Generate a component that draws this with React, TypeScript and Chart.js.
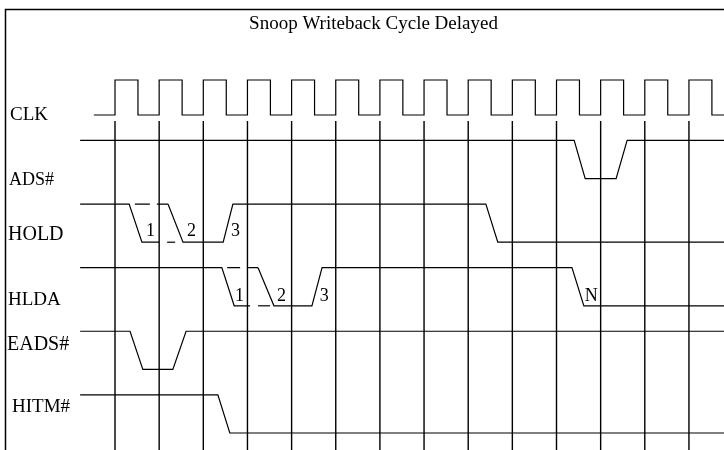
import React, { useEffect, useRef } from "react";
import { Chart, registerables } from "chart.js";

Chart.register(...registerables);

// ---------- data (time in clock cycles, level 1 = high, 0 = low) ----------
const chartTitle = "Snoop Writeback Cycle Delayed";
const signalNames = ["CLK", "ADS#", "HOLD", "HLDA", "EADS#", "HITM#"];
const clockRiseTimes = [0, 1, 2, 3, 4, 5, 6, 7, 8, 9, 10, 11, 12, 13];
const clockHighTime = 0.52;
const clockStart = -0.48;
const traceStart = -0.79;
const traceEnd = 13.8;

type Pt = [number, number] | null;

const adsWave: Pt[] = [[traceStart, 1], [10.4, 1], [10.65, 0], [11.35, 0], [11.6, 1], [traceEnd, 1]];
const holdWave: Pt[] = [[traceStart, 1], [0.32, 1], [0.61, 0], [1.0, 0], null, [1.2, 1], [1.54, 0], [2.45, 0], [2.67, 1], [8.4, 1], [8.67, 0], [traceEnd, 0]];
const holdDashHigh: Pt[] = [[0.45, 1], [1.2, 1]];
const holdDashLow: Pt[] = [[1.18, 0], [1.54, 0]];
const hldaWave: Pt[] = [[traceStart, 1], [2.42, 1], [2.7, 0], [3.06, 0], null, [3.24, 1], [3.6, 0], [4.46, 0], [4.69, 1], [10.35, 1], [10.62, 0], [traceEnd, 0]];
const hldaDashHigh: Pt[] = [[2.54, 1], [3.24, 1]];
const hldaDashLow: Pt[] = [[3.24, 0], [3.6, 0]];
const eadsWave: Pt[] = [[traceStart, 1], [0.34, 1], [0.63, 0], [1.31, 0], [1.61, 1], [traceEnd, 1]];
const hitmWave: Pt[] = [[traceStart, 1], [2.33, 1], [2.6, 0], [traceEnd, 0]];

const holdMarkText = ["1", "2", "3"];
const holdMarkTimes = [0.7, 1.63, 2.63];
const hldaMarkText = ["1", "2", "3", "N"];
const hldaMarkTimes = [2.72, 3.67, 4.64, 10.64];

// ---------- geometry helpers ----------
const X_MIN = -2.605;
const X_MAX = 13.794;
const Y_MIN = -1.808;
const Y_MAX = 5.267;
const CLK_AMP = 0.55;
const SIG_AMP = 0.6;
const GRID_TOP = 0.094;

function toXY(row: number, amp: number, pts: Pt[]) {
  const out: { x: number; y: number | null }[] = [];
  let lastX = 0;
  for (const p of pts) {
    if (p === null) {
      out.push({ x: lastX, y: null });
    } else {
      lastX = p[0];
      out.push({ x: p[0], y: row - p[1] * amp });
    }
  }
  return out;
}

function clockPoints(): Pt[] {
  const pts: Pt[] = [[clockStart, 0]];
  for (const r of clockRiseTimes) {
    pts.push([r, 0], [r, 1], [r + clockHighTime, 1], [r + clockHighTime, 0]);
  }
  pts.push([traceEnd, 0]);
  return pts;
}

function gridPoints() {
  const out: { x: number; y: number | null }[] = [];
  for (const t of clockRiseTimes) {
    out.push({ x: t, y: GRID_TOP }, { x: t, y: Y_MAX }, { x: t, y: null });
  }
  return out;
}

const SERIF = '"Liberation Serif", "Times New Roman", serif';

const textPlugin = {
  id: "timingText",
  afterDatasetsDraw(chart: any) {
    const { ctx, scales } = chart;
    const xs = scales.x;
    const ys = scales.y;
    ctx.save();
    // frame
    ctx.strokeStyle = "#000";
    ctx.lineWidth = 1.5;
    ctx.beginPath();
    ctx.moveTo(5.5, 460);
    ctx.lineTo(5.5, 9.5);
    ctx.lineTo(740, 9.5);
    ctx.stroke();

    ctx.fillStyle = "#000";
    ctx.textBaseline = "alphabetic";
    // title
    ctx.font = `19px ${SERIF}`;
    ctx.textAlign = "center";
    ctx.fillText(chartTitle, 373.5, 29);

    // signal names
    ctx.textAlign = "left";
    const namePos = [
      [10, 120, 19],
      [9, 185, 18],
      [8, 240, 20],
      [8, 305, 19],
      [7, 350, 20],
      [12, 412, 19],
    ];
    signalNames.forEach((n, i) => {
      const [x, y, s] = namePos[i];
      ctx.font = `${s}px ${SERIF}`;
      ctx.fillText(n, x, y);
    });

    // edge markers
    ctx.font = `18px ${SERIF}`;
    holdMarkText.forEach((m, i) => {
      ctx.fillText(m, xs.getPixelForValue(holdMarkTimes[i]), ys.getPixelForValue(2 - 0.1));
    });
    hldaMarkText.forEach((m, i) => {
      ctx.fillText(m, xs.getPixelForValue(hldaMarkTimes[i]), ys.getPixelForValue(3 - 0.08));
    });
    ctx.restore();
  },
};

export default function App() {
  const ref = useRef<HTMLCanvasElement | null>(null);
  useEffect(() => {
    if (!ref.current) return;
    const line = (data: any, width = 1.2, dash: number[] = []) => ({
      data,
      borderColor: "#000",
      borderWidth: width,
      borderDash: dash,
      pointRadius: 0,
      tension: 0,
      spanGaps: false,
      fill: false,
    });
    const chart = new Chart(ref.current, {
      type: "line",
      data: {
        datasets: [
          line(gridPoints(), 1.4),
          line(toXY(0, CLK_AMP, clockPoints())),
          line(toXY(1, SIG_AMP, adsWave)),
          line(toXY(2, SIG_AMP, holdWave)),
          line(toXY(2, SIG_AMP, holdDashHigh), 1.2, [15, 7]),
          line(toXY(2, SIG_AMP, holdDashLow), 1.2, [8, 8]),
          line(toXY(3, SIG_AMP, hldaWave)),
          line(toXY(3, SIG_AMP, hldaDashHigh), 1.2, [13, 8]),
          line(toXY(3, SIG_AMP, hldaDashLow), 1.2, [12, 6]),
          line(toXY(4, SIG_AMP, eadsWave)),
          line(toXY(5, SIG_AMP, hitmWave)),
        ] as any,
      },
      options: {
        animation: false,
        responsive: false,
        maintainAspectRatio: false,
        layout: { padding: 0 },
        parsing: false as any,
        normalized: true,
        plugins: { legend: { display: false }, tooltip: { enabled: false }, title: { display: false } },
        scales: {
          x: { type: "linear", min: X_MIN, max: X_MAX, display: false },
          y: { type: "linear", min: Y_MIN, max: Y_MAX, reverse: true, display: false },
        },
      },
      plugins: [textPlugin],
    });
    return () => chart.destroy();
  }, []);
  return (
    <div style={{ position: "fixed", left: 0, top: 0, width: 724, height: 450, background: "#fff" }}>
      <canvas ref={ref} width={724} height={450} style={{ display: "block" }} />
    </div>
  );
}
